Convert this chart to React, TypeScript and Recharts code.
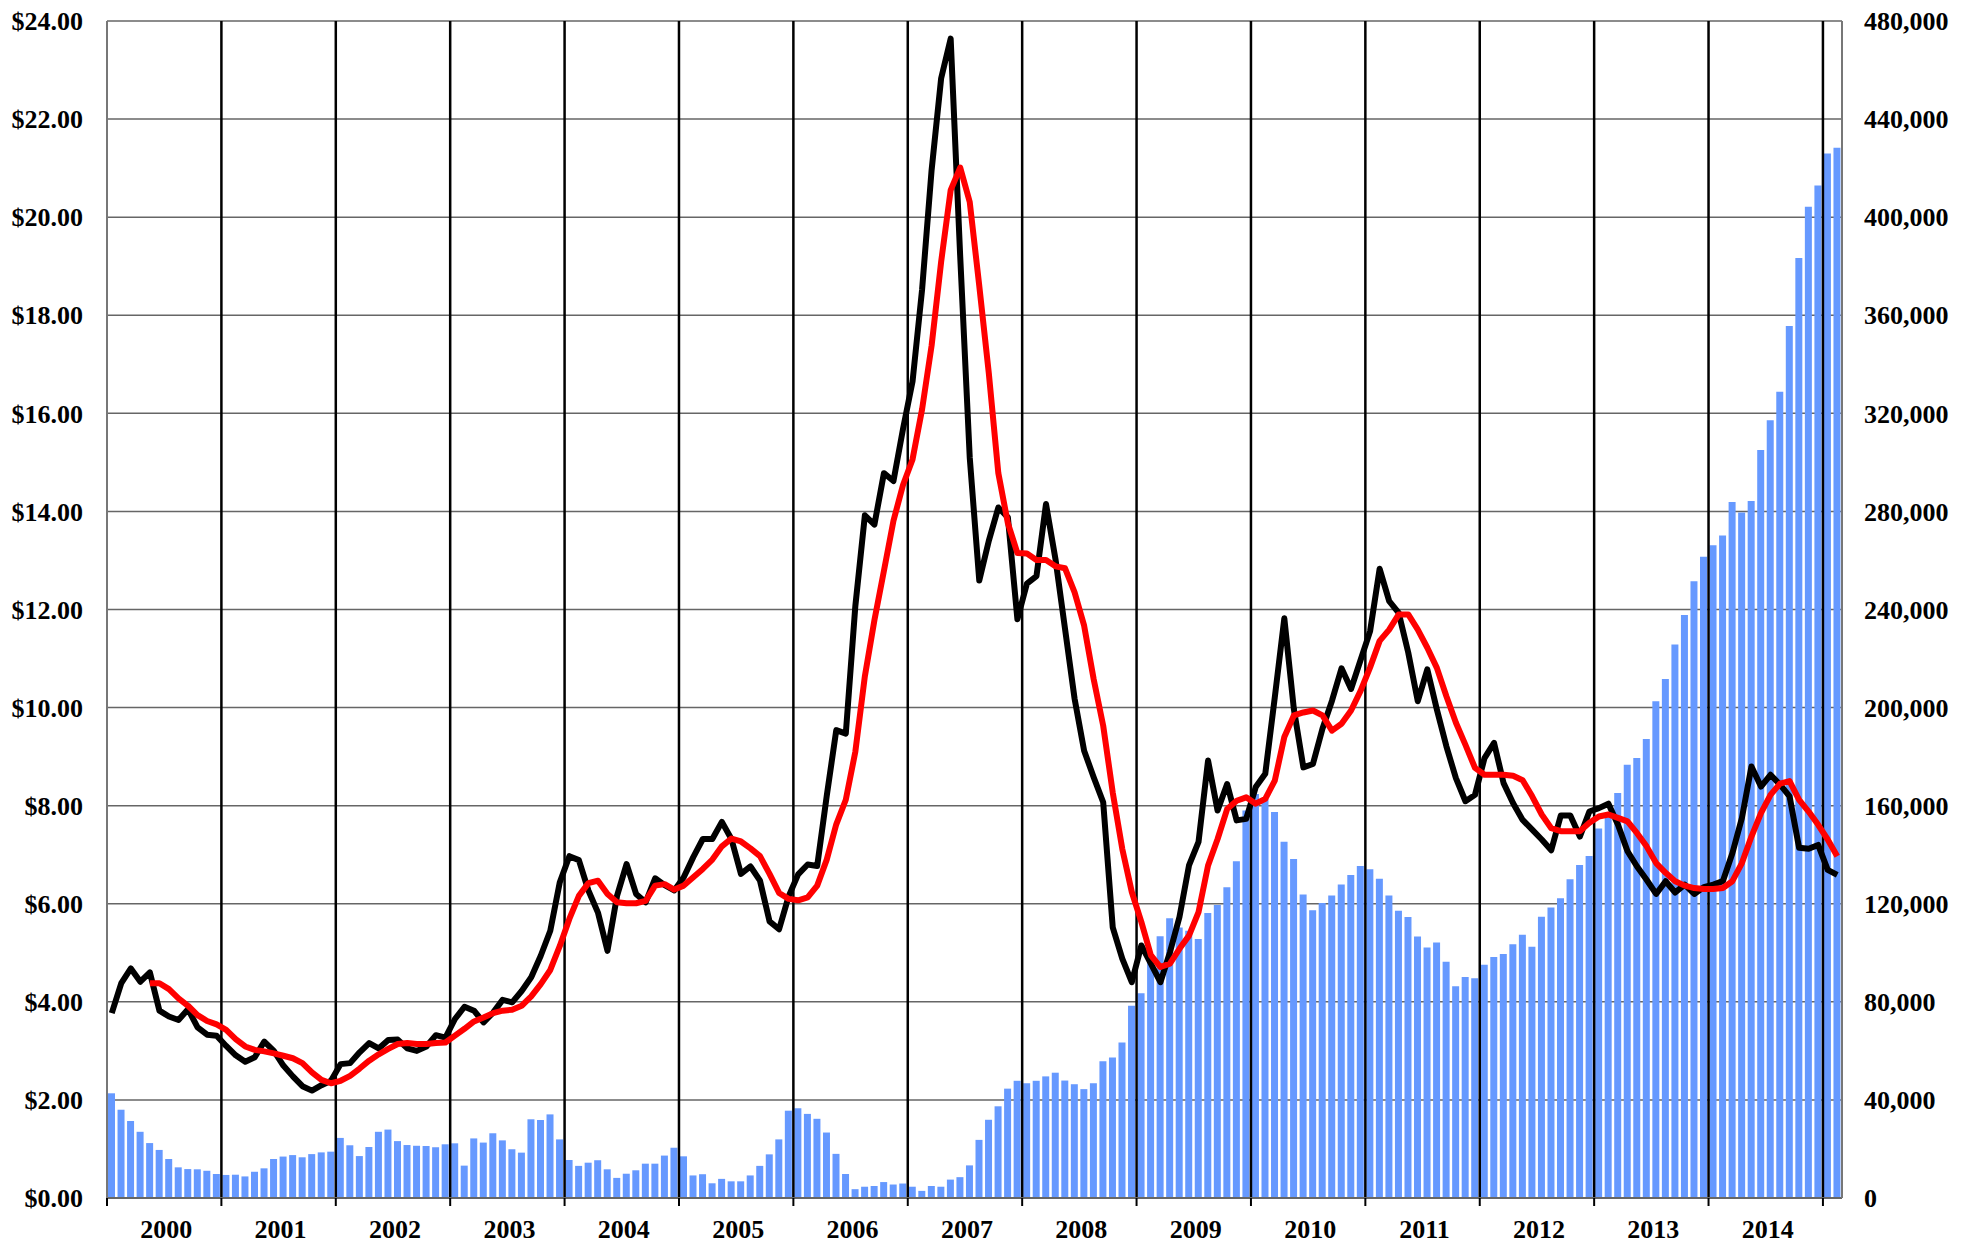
import { ComposedChart, Bar, Line, XAxis, YAxis, CartesianGrid, ReferenceLine } from "recharts"

// Year labels along the bottom
const years = ["2000", "2001", "2002", "2003", "2004", "2005", "2006", "2007", "2008", "2009", "2010", "2011", "2012", "2013", "2014"]

// Monthly price, Jan 2000 - Feb 2015 (left axis, $)
const price = [
    3.77, 4.38, 4.68, 4.41, 4.60, 3.82, 3.70, 3.63, 3.85, 3.48, 3.33, 3.31,
    3.10, 2.91, 2.78, 2.87, 3.19, 3.00, 2.70, 2.48, 2.28, 2.19, 2.30, 2.39,
    2.73, 2.75, 2.97, 3.16, 3.05, 3.22, 3.23, 3.05, 3.00, 3.09, 3.32, 3.27,
    3.65, 3.90, 3.82, 3.58, 3.78, 4.04, 3.99, 4.22, 4.50, 4.94, 5.45, 6.44,
    6.97, 6.89, 6.27, 5.82, 5.04, 6.16, 6.81, 6.20, 6.03, 6.52, 6.38, 6.27,
    6.54, 6.95, 7.32, 7.32, 7.67, 7.32, 6.61, 6.76, 6.47, 5.64, 5.48, 6.15,
    6.60, 6.80, 6.77, 8.20, 9.54, 9.47, 12.07, 13.92, 13.73, 14.78, 14.62, 15.68,
    16.65, 18.52, 20.96, 22.83, 23.64, 19.2, 15.1, 12.59, 13.40, 14.08, 13.88, 11.80,
    12.53, 12.68, 14.15, 13.02, 11.60, 10.18, 9.12, 8.58, 8.07, 5.52, 4.88, 4.40,
    5.15, 4.78, 4.40, 5.01, 5.73, 6.78, 7.26, 8.92, 7.90, 8.44, 7.70, 7.73,
    8.38, 8.65, 10.21, 11.82, 9.97, 8.78, 8.85, 9.57, 10.14, 10.80, 10.38, 10.97,
    11.56, 12.83, 12.17, 11.93, 11.12, 10.13, 10.78, 9.96, 9.21, 8.56, 8.09, 8.22,
    8.97, 9.28, 8.46, 8.05, 7.71, 7.51, 7.31, 7.09, 7.80, 7.80, 7.37, 7.88,
    7.95, 8.04, 7.61, 7.07, 6.76, 6.49, 6.20, 6.46, 6.23, 6.39, 6.20, 6.34,
    6.39, 6.46, 7.03, 7.75, 8.80, 8.39, 8.63, 8.43, 8.19, 7.14, 7.12, 7.20,
    6.69, 6.59,
]

// Moving average of the price (left axis, $)
const average = [
    null, null, null, null, 4.38, 4.38, 4.26, 4.07, 3.92, 3.73, 3.61, 3.54,
    3.43, 3.24, 3.09, 3.02, 2.99, 2.95, 2.90, 2.85, 2.75, 2.56, 2.41, 2.34,
    2.39, 2.49, 2.64, 2.80, 2.93, 3.04, 3.14, 3.16, 3.14, 3.14, 3.16, 3.17,
    3.31, 3.45, 3.60, 3.68, 3.77, 3.82, 3.84, 3.92, 4.11, 4.36, 4.65, 5.14,
    5.69, 6.16, 6.42, 6.47, 6.20, 6.03, 6.01, 6.01, 6.06, 6.37, 6.40, 6.29,
    6.37, 6.54, 6.71, 6.90, 7.17, 7.33, 7.27, 7.13, 6.97, 6.61, 6.22, 6.10,
    6.07, 6.13, 6.37, 6.90, 7.62, 8.12, 9.10, 10.64, 11.78, 12.79, 13.81, 14.54,
    15.06, 16.08, 17.38, 19.09, 20.55, 21.01, 20.31, 18.60, 16.82, 14.78, 13.76, 13.15,
    13.14, 13.01, 13.01, 12.88, 12.84, 12.35, 11.67, 10.58, 9.63, 8.27, 7.12, 6.24,
    5.63, 4.95, 4.71, 4.78, 5.08, 5.35, 5.83, 6.78, 7.32, 7.93, 8.10, 8.17,
    8.04, 8.14, 8.51, 9.40, 9.84, 9.90, 9.94, 9.84, 9.53, 9.67, 9.94, 10.34,
    10.82, 11.36, 11.59, 11.90, 11.90, 11.59, 11.22, 10.81, 10.23, 9.69, 9.24, 8.77,
    8.63, 8.63, 8.63, 8.61, 8.52, 8.19, 7.82, 7.54, 7.48, 7.48, 7.48, 7.65,
    7.78, 7.82, 7.75, 7.68, 7.44, 7.17, 6.83, 6.63, 6.46, 6.37, 6.32, 6.30,
    6.30, 6.32, 6.46, 6.83, 7.37, 7.85, 8.22, 8.45, 8.50, 8.12, 7.88, 7.61,
    7.31, 6.97,
]

// Monthly volume in thousands (right axis)
const volume = [
    42.7, 36.0, 31.4, 27.0, 22.4, 19.6, 15.9, 12.5, 11.8, 11.7, 11.1, 9.8,
    9.4, 9.5, 8.8, 10.7, 12.1, 15.9, 16.9, 17.5, 16.6, 17.9, 18.6, 18.9,
    24.5, 21.5, 17.1, 20.8, 27.0, 27.9, 23.2, 21.6, 21.3, 21.2, 20.7, 21.9,
    22.3, 13.2, 24.3, 22.6, 26.4, 23.5, 19.9, 18.5, 32.1, 31.8, 34.1, 23.9,
    15.5, 13.1, 14.4, 15.4, 11.7, 8.2, 9.9, 11.3, 14.0, 14.0, 17.3, 20.5,
    17.0, 9.2, 9.7, 6.0, 7.8, 6.8, 6.8, 9.2, 13.1, 17.8, 23.9, 35.6,
    36.6, 34.3, 32.3, 26.7, 18.0, 9.8, 3.6, 4.6, 4.9, 6.5, 5.5, 5.9,
    4.6, 2.9, 4.9, 4.6, 7.5, 8.5, 13.3, 23.7, 31.9, 37.4, 44.6, 47.8,
    46.8, 47.8, 49.6, 51.1, 47.9, 46.4, 44.4, 46.8, 55.8, 57.3, 63.4, 78.4,
    83.5, 97.0, 106.7, 114.1, 110.3, 109.0, 105.6, 116.2, 119.5, 126.7, 137.3, 158.0,
    164.8, 162.8, 157.4, 145.3, 138.2, 123.8, 117.3, 120.3, 123.4, 127.9, 131.7, 135.4,
    134.1, 130.2, 123.4, 117.1, 114.6, 106.6, 102.2, 104.2, 96.3, 86.4, 90.1, 89.6,
    95.1, 98.3, 99.5, 103.5, 107.4, 102.5, 114.7, 118.5, 122.2, 130.0, 135.8, 139.5,
    150.7, 155.6, 165.2, 176.7, 179.4, 187.2, 202.6, 211.7, 225.7, 237.8, 251.5, 261.5,
    266.2, 270.2, 283.8, 279.6, 284.2, 305.0, 317.2, 328.8, 355.6, 383.3, 404.2, 412.9,
    426.0, 428.3,
]

const leftTicks = [0, 2, 4, 6, 8, 10, 12, 14, 16, 18, 20, 22, 24]
const rightTicks = [0, 40, 80, 120, 160, 200, 240, 280, 320, 360, 400, 440, 480]

// x is the month index, centred in its slot
const data = price.map((p, i) => ({ x: i + 0.5, price: p, average: average[i], volume: volume[i] }))
const yearStarts = [...years.map((_, i) => i * 12), years.length * 12]
const yearMiddles = years.map((_, i) => i * 12 + 6)

const font = {
    fill: "#000",
    fontSize: 26,
    fontWeight: "bold",
    fontFamily: '"Liberation Serif", "Times New Roman", serif',
}

export default function App() {
    return (
        <div style={{ position: "absolute", left: 0, top: 0, width: 1975, height: 1249, background: "#fff" }}>
            <ComposedChart width={1975} height={1249} data={data} margin={{ top: 21, right: 0, bottom: 0, left: 0 }}>
                <CartesianGrid xAxisId="m" yAxisId="left" vertical={false} stroke="#666" strokeWidth={1.5} />
                <XAxis
                    xAxisId="m"
                    type="number"
                    dataKey="x"
                    domain={[0, 182]}
                    ticks={yearStarts}
                    tickFormatter={() => ""}
                    height={10}
                    tickSize={8}
                    tickLine={{ stroke: "#000", strokeWidth: 2 }}
                    axisLine={{ stroke: "#666", strokeWidth: 2 }}
                    interval={0}
                />
                <XAxis
                    xAxisId="y"
                    type="number"
                    dataKey="x"
                    domain={[0, 182]}
                    ticks={yearMiddles}
                    tickFormatter={(v: number) => years[(v - 6) / 12]}
                    height={41}
                    tickSize={0}
                    tickMargin={12}
                    tickLine={false}
                    axisLine={false}
                    interval={0}
                    tick={{ ...font, dx: 2 }}
                />
                <YAxis
                    yAxisId="left"
                    domain={[0, 24]}
                    ticks={leftTicks}
                    tickFormatter={(v: number) => `$${v.toFixed(2)}`}
                    width={107}
                    tickLine={false}
                    tickSize={0}
                    tickMargin={24}
                    axisLine={{ stroke: "#777", strokeWidth: 2 }}
                    interval={0}
                    tick={font}
                />
                <YAxis
                    yAxisId="right"
                    orientation="right"
                    domain={[0, 480]}
                    ticks={rightTicks}
                    tickFormatter={(v: number) => (v === 0 ? "0" : `${v},000`)}
                    width={133}
                    tickLine={false}
                    tickSize={0}
                    tickMargin={22}
                    axisLine={{ stroke: "#777", strokeWidth: 2 }}
                    interval={0}
                    tick={font}
                />
                <Bar xAxisId="m" yAxisId="right" dataKey="volume" fill="#6699ff" barSize={7} isAnimationActive={false} />
                {yearStarts.slice(1).map((x) => (
                    <ReferenceLine key={x} xAxisId="m" yAxisId="left" x={x} stroke="#000" strokeWidth={2.5} />
                ))}
                <Line
                    xAxisId="m"
                    yAxisId="left"
                    type="linear"
                    dataKey="price"
                    stroke="#000"
                    strokeWidth={6}
                    strokeLinejoin="round"
                    dot={false}
                    isAnimationActive={false}
                />
                <Line
                    xAxisId="m"
                    yAxisId="left"
                    type="linear"
                    dataKey="average"
                    stroke="#ff0000"
                    strokeWidth={6}
                    strokeLinejoin="round"
                    dot={false}
                    connectNulls={false}
                    isAnimationActive={false}
                />
            </ComposedChart>
        </div>
    )
}
